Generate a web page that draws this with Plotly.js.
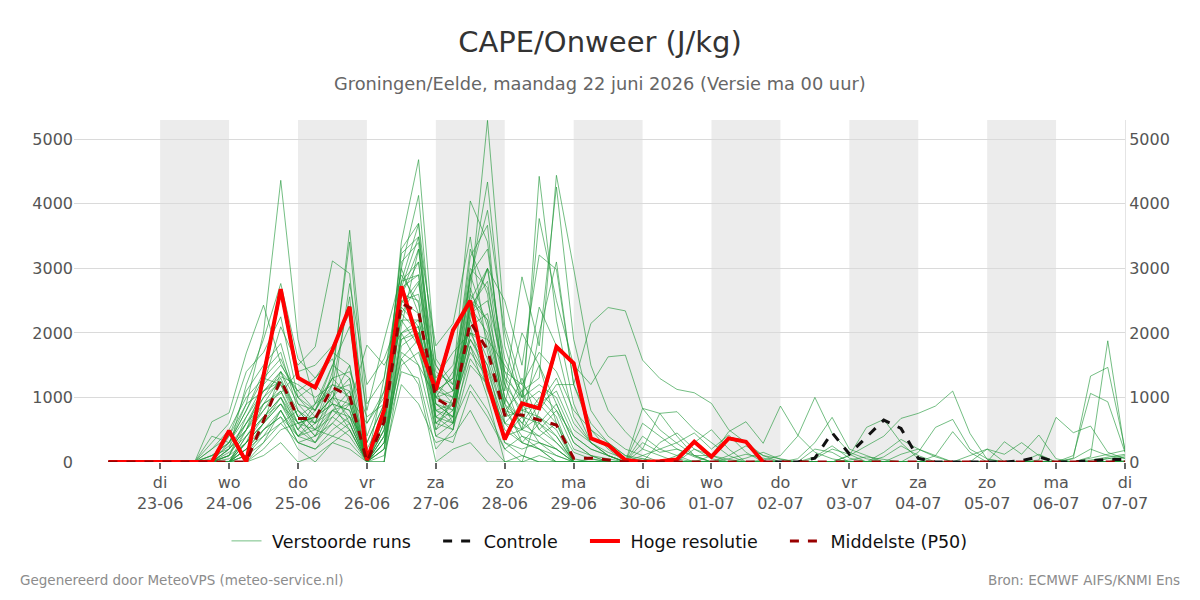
<!DOCTYPE html>
<html>
<head>
<meta charset="utf-8">
<script src="https://cdn.plot.ly/plotly-3.0.1.min.js"></script>
<style>
  html, body { margin: 0; padding: 0; background: #ffffff; }
  #chart { width: 1200px; height: 600px; }
</style>
</head>
<body>
<div id="chart"></div>
<script>
// Forecast time grid: first step and spacing (hours)
const firstStep = '2026-06-22T06:00:00Z';
const stepHours = 6;

// Day ticks along the time axis
const tickDays = ['2026-06-23','2026-06-24','2026-06-25','2026-06-26','2026-06-27','2026-06-28','2026-06-29',
                  '2026-06-30','2026-07-01','2026-07-02','2026-07-03','2026-07-04','2026-07-05','2026-07-06','2026-07-07'];
const dayNames = ['di','wo','do','vr','za','zo','ma','di','wo','do','vr','za','zo','ma','di'];

// Shaded (alternate) days
const shadedDays = ['2026-06-23','2026-06-25','2026-06-27','2026-06-29','2026-07-01','2026-07-03','2026-07-05'];

// CAPE (J/kg), ensemble members
const run01 = [0,0,0,0,0,0, 100,300,900,2000,4365, 1900,900,1500,2100,400, 1100,2600,3300,1000,900, 2300,3000,1200,500,900, 1300,600,300,150,50, 0,0,0,0,0, 50,120,60,0,0, 0,0,30,80,40, 0,0,0,0,0, 0,0,0,0,0, 0,0,0,20];
const run02 = [0,0,0,0,0,0, 0,200,1200,1900,2766, 1600,1300,1700,1500,300, 900,3000,4131,1200,1500, 2800,4339,1800,900,1100, 800,400,200,100,0, 0,0,0,0,0, 0,0,0,0,0, 0,0,0,0,0, 0,0,0,0,0, 0,0,0,0,0, 0,0,60,0];
const run03 = [0,0,0,0,0,0, 300,600,1400,1700,2250, 1000,800,1300,3591,900, 1300,2800,3690,800,600, 2600,5294,2100,1200,1700, 1400,800,500,300,100, 50,0,0,0,100, 470,624,290,867,418, 150,50,0,0,0, 0,0,0,0,0, 0,0,0,0,0, 0,0,0,0];
const run04 = [0,0,0,0,0,0, 0,0,500,1200,2095, 1500,1785,3116,2920,200, 700,3410,4685,1500,1100, 3180,3669,900,300,600, 900,300,100,0,0, 0,0,0,0,0, 0,0,30,100,400, 1001,444,150,50,0, 0,0,0,0,0, 0,0,0,0,0, 0,0,0,0];
const run05 = [0,0,0,0,0,0, 0,400,1100,1500,1837, 900,600,1400,3410,600, 1000,3230,3488,1100,1300, 4045,3410,1300,700,4427, 2200,900,300,100,0, 0,0,0,0,0, 0,0,0,0,0, 0,0,100,250,400, 676,754,867,1099,444, 40,0,0,0,0, 0,0,0,0];
const run06 = [0,0,0,0,0,0, 624,760,1690,2430,1527, 1000,700,900,2766,1200, 1600,2300,2766,1300,1700, 2000,1900,1500,1100,1300, 4443,2998,1500,800,470, 200,100,0,0,0, 0,0,0,0,0, 0,0,0,0,0, 0,0,0,0,0, 0,0,0,0,0, 0,0,0,0];
const run07 = [0,0,0,0,0,0, 0,100,600,1100,1321, 1200,1000,1200,2560,0, 500,2600,3100,700,900, 2870,3901,2000,1000,3773, 2500,1500,1200,1630,1656, 831,754,779,500,300, 100,0,0,0,0, 0,0,0,0,0, 0,0,0,0,0, 0,0,0,0,0, 0,0,0,0];
const run08 = [0,0,0,0,0,0, 0,0,300,900,1063, 1400,1500,1800,2300,800, 1888,2900,2457,600,800, 2400,2800,1100,2869,1800, 4262,1900,800,400,200, 100,0,0,0,0, 0,0,0,0,0, 0,0,0,0,0, 0,0,0,0,0, 0,0,0,0,0, 0,0,0,0];
const run09 = [0,0,0,0,0,0, 400,300,800,1400,1700, 800,500,700,1000,0, 300,2100,3300,1400,1200, 3300,2600,600,300,200, 100,0,0,0,0, 0,0,0,0,0, 0,0,0,0,50, 300,692,200,100,0, 0,0,0,0,0, 0,0,0,0,0, 0,0,0,0];
const run10 = [0,0,0,0,0,0, 0,0,200,600,1400, 700,400,1000,1500,0, 600,2456,2800,900,700, 2200,3000,2500,1500,3207, 2985,1200,600,300,100, 0,0,50,0,0, 0,0,0,0,0, 0,0,0,0,0, 0,0,0,0,0, 0,0,0,0,0, 60,1331,1466,200];
const run11 = [0,0,0,0,0,0, 0,150,400,800,1100, 500,900,1300,1000,0, 200,1800,2000,500,1000, 1900,1500,700,1300,600, 400,0,0,0,0, 0,0,0,0,0, 0,0,0,0,0, 0,0,0,0,0, 0,0,0,0,0, 0,0,0,0,0, 100,1063,933,150];
const run12 = [0,0,0,0,0,0, 200,500,1000,1300,1200, 600,300,800,900,0, 800,2700,3488,1800,2147, 3488,1700,800,400,300, 200,0,0,0,0, 0,0,0,0,0, 0,0,0,0,0, 0,0,0,0,0, 0,0,0,0,0, 0,0,0,0,0, 0,80,1878,150];
const run13 = [0,0,0,0,0,0, 0,0,0,300,800, 300,200,500,700,0, 400,1900,2100,700,500, 1500,1200,300,100,0, 0,0,0,0,0, 0,0,0,0,0, 0,0,0,0,0, 0,0,0,0,0, 0,0,0,0,0, 0,0,0,30,692, 454,557,150,50];
const run14 = [0,0,0,0,0,0, 0,100,700,1200,1500, 1100,1300,1600,900,1811, 1500,2000,1500,1000,1400, 2100,1100,600,900,500, 300,50,0,0,0, 0,0,0,0,0, 0,0,0,0,0, 0,0,100,537,660, 300,50,0,0,0, 0,0,0,0,0, 0,0,0,0];
const run15 = [0,0,0,0,0,0, 0,0,400,700,900, 400,500,1100,1200,0, 0,2500,2600,1100,600, 2900,2100,1000,600,400, 600,0,0,0,0, 0,0,0,0,0, 0,0,0,0,0, 0,0,0,0,0, 0,150,537,660,200, 50,0,0,0,0, 0,0,0,0];
const run16 = [0,0,0,0,0,0, 0,200,600,1000,1250, 800,600,1200,1100,0, 700,2200,2200,1000,800, 2200,1600,700,800,700, 500,0,50,0,0, 0,0,0,20,0, 0,60,150,40,0, 0,0,0,0,0, 0,0,0,0,0, 0,0,0,0,0, 0,30,80,120];
const run17 = [0,0,0,0,0,0, 0,0,100,500,700, 200,0,300,500,0, 300,1600,1900,400,600, 1200,800,200,0,800, 1200,1200,2147,2394,2342, 1579,1295,1125,1073,908, 500,300,100,50,0, 0,0,0,0,0, 0,0,0,0,0, 0,0,0,0,0, 0,0,0,0];
const run18 = [0,0,0,0,0,0, 100,300,700,1100,1400, 900,800,1500,1300,0, 500,3100,3400,900,700, 2500,2200,1000,500,2000, 3100,1200,500,200,0, 300,150,200,80,0, 0,0,0,0,0, 0,0,0,0,0, 120,200,80,0,0, 0,0,0,0,0, 0,0,0,0];
const run19 = [0,0,0,0,0,0, 0,0,0,200,500, 600,700,900,800,0, 200,2000,2200,1200,900, 1700,1300,500,300,200, 0,0,0,0,0, 0,300,450,200,50, 0,0,0,0,0, 200,150,0,0,80, 250,100,0,0,0, 0,0,0,0,0, 0,0,0,0];
const run20 = [0,0,0,0,0,0, 0,0,300,600,1000, 400,700,1000,1300,0, 800,2800,2900,600,500, 1800,1000,0,0,100, 0,0,0,0,0, 50,0,0,0,0, 0,0,0,0,0, 80,250,60,0,0, 0,0,0,0,0, 0,0,0,0,0, 0,0,50,100];
const run21 = [0,0,0,0,0,0, 0,100,500,900,1300, 700,900,1100,600,0, 400,2300,2000,1100,1000, 2400,2000,900,600,1000, 700,0,0,0,0, 600,400,200,100,100, 40,0,0,0,0, 0,0,0,0,0, 0,0,0,0,0, 0,0,0,0,0, 0,0,0,0];
const run22 = [0,0,0,0,0,0, 0,0,200,400,600, 300,400,600,400,0, 0,1500,1700,800,700, 2000,1500,400,700,300, 100,0,0,0,0, 0,0,100,300,500, 200,0,0,0,0, 0,0,0,0,0, 0,0,0,0,0, 200,120,300,100,0, 0,0,0,0];
const run23 = [0,0,0,0,0,0, 50,250,600,900,1100, 600,500,800,700,300, 900,2600,2500,700,600, 2300,2500,1400,900,1500, 900,300,100,50,0, 0,0,0,200,100, 0,0,0,0,0, 0,0,0,0,150, 350,200,100,0,0, 0,0,0,0,0, 0,0,0,0];
const run24 = [0,0,0,0,0,0, 0,0,0,100,300, 0,100,300,200,0, 100,1200,900,300,400, 800,300,0,0,0, 0,0,0,0,0, 0,0,0,0,0, 0,0,0,0,0, 0,0,0,0,0, 0,0,0,0,0, 0,0,0,0,0, 0,0,0,0];
const run25 = [0,0,0,0,0,0, 0,300,800,1300,1600, 1000,1200,900,500,0, 1300,3000,2300,1100,1300, 2700,1900,800,1100,500, 800,200,100,0,0, 0,0,0,0,0, 100,250,100,0,0, 0,0,0,0,0, 0,0,0,0,0, 0,0,0,0,0, 0,0,0,0];
const run26 = [0,0,0,0,0,0, 0,0,400,700,1000, 500,300,600,900,0, 500,2400,2100,600,900, 1900,1400,600,500,700, 400,0,0,0,0, 0,0,0,0,0, 0,0,0,0,0, 0,0,0,0,0, 0,0,0,0,100, 200,0,0,120,0, 0,0,0,0];
const run27 = [0,0,0,0,0,0, 0,0,100,300,600, 800,500,400,300,0, 200,1700,1500,400,300, 1100,700,200,400,200, 0,0,0,0,0, 0,0,0,0,0, 0,0,0,0,0, 0,0,0,0,0, 0,0,0,0,0, 0,0,0,0,0, 0,0,0,80];
const run28 = [0,0,0,0,0,0, 200,400,900,1100,1250, 700,600,900,800,0, 700,2500,2300,1500,1100, 2100,2300,1200,800,900, 600,150,50,0,0, 200,754,400,100,0, 0,0,0,0,0, 50,200,120,0,0, 0,0,0,0,0, 0,0,0,0,0, 0,0,0,0];
const run29 = [0,0,0,0,0,0, 0,100,300,600,900, 500,800,1200,1000,600, 1100,2200,1800,500,700, 1600,1200,300,200,300, 200,0,0,0,0, 100,200,100,0,0, 0,0,0,0,0, 0,0,0,0,0, 0,0,0,0,0, 0,314,120,418,50, 0,0,0,0];
const run30 = [0,0,0,0,0,0, 0,0,200,500,800, 300,200,400,600,0, 300,1400,1300,200,500, 2500,3000,1600,1000,2400, 1800,700,300,100,0, 400,200,300,450,200, 418,150,0,0,0, 0,0,0,0,0, 0,0,0,0,0, 0,0,0,0,0, 0,0,0,0];
const run31 = [0,0,0,0,0,0, 0,50,300,700,1000, 600,700,1000,900,0, 600,2700,2900,1200,1000, 2600,2200,800,700,600, 300,0,0,0,0, 0,0,0,0,0, 0,0,0,0,0, 0,0,0,0,0, 0,0,0,0,0, 0,0,0,0,0, 50,200,100,60];
const run32 = [0,0,0,0,0,0, 0,0,100,400,800, 400,300,700,500,0, 400,1600,1200,0,200, 300,0,0,100,0, 0,0,0,0,0, 0,0,0,0,0, 0,0,0,0,0, 0,0,0,0,0, 0,0,0,0,0, 0,0,0,0,0, 0,0,0,0];
const run33 = [0,0,0,0,0,0, 0,200,500,800,1200, 700,400,800,1100,0, 800,3300,3700,1600,1200, 3000,2700,1300,1000,1200, 1000,400,200,100,0, 0,0,0,0,0, 0,0,0,0,0, 0,0,0,0,0, 0,0,0,0,0, 0,0,0,0,0, 0,60,120,180];
const run34 = [0,0,0,0,0,0, 0,0,300,600,900, 600,700,1000,700,0, 0,2000,2100,900,800, 1800,1300,400,500,400, 200,0,0,0,0, 0,0,0,0,0, 0,0,0,0,0, 0,0,0,0,0, 0,0,100,470,150, 0,0,0,0,0, 0,0,0,0];
const run35 = [0,0,0,0,0,0, 100,200,500,1000,1400, 1100,800,1300,1400,700, 900,2800,3100,1000,1100, 2900,3300,1400,1200,900, 1100,500,300,100,0, 831,500,289,100,0, 0,0,0,0,0, 0,0,0,0,0, 0,0,0,0,0, 0,0,0,0,0, 0,0,0,0];
const run36 = [0,0,0,0,0,0, 0,0,200,500,700, 400,600,800,600,0, 300,1900,2000,800,900, 2000,1800,900,2000,1500, 600,0,0,0,0, 0,0,0,0,0, 0,0,0,0,0, 0,0,0,0,0, 0,0,0,0,0, 0,0,0,0,0, 0,0,0,0];

// Control run, high-resolution run and ensemble median (P50)
const controle = [0,0,0,0,0,0, 0,485,0,1339,2678, 1305,1156,1734,2404,30, 805,2724,1850,1115,2043, 2497,1218,351,908,831, 1785,1528,367,263,30, 0,10,40,314,82, 367,314,0,0,0, 60,454,124,392,650, 521,57,0,0,0, 0,0,20,80,0, 0,20,40,40];
const hogeResolutie = [0,0,0,0,0,0, 0,485,0,1339,2678, 1305,1156,1734,2404,30, 805,2724,1850,1115,2043, 2497,1218,351,908,831, 1785,1528,367,263,30, 0,10,40,314,82, 367,314,0];
const middelste = [0,0,0,0,0,0, 0,0,0,640,1280, 676,676,1156,1022,0, 624,2456,2327,986,831, 2172,1734,728,728,650, 573,57,60,30,0, 0,0,0,0,0, 0,0,0,0,0, 0,0,0,0,0, 0,0,0,0,0, 0,0,0,0,0, 0,0,0,0];

const runs = [run01,run02,run03,run04,run05,run06,run07,run08,run09,run10,run11,run12,
              run13,run14,run15,run16,run17,run18,run19,run20,run21,run22,run23,run24,
              run25,run26,run27,run28,run29,run30,run31,run32,run33,run34,run35,run36];

const yTicks = [0, 1000, 2000, 3000, 4000, 5000];

// ---- build ----
const HOUR = 3600 * 1000;
function fmt(ms) { return new Date(ms).toISOString().slice(0, 19).replace('T', ' '); }
function timesFor(n) {
  const t0 = Date.parse(firstStep);
  return Array.from({length: n}, (_, i) => fmt(t0 + i * stepHours * HOUR));
}
function dayAfter(d) { return fmt(Date.parse(d + 'T00:00:00Z') + 24 * HOUR); }

// legend entries get a little breathing room around their labels
const NB = '\u00a0';
function legendLabel(text, last) { return NB + text + (last ? '' : NB.repeat(4)); }

const FONT = 'DejaVu Sans, Verdana, sans-serif';
const traces = [];

runs.forEach((r, k) => {
  traces.push({
    x: timesFor(r.length), y: r, type: 'scatter', mode: 'lines',
    name: legendLabel('Verstoorde runs'), legendgroup: 'ens', showlegend: k === 0,
    line: {color: 'rgba(30,150,55,0.62)', width: 1},
    hoverinfo: 'skip', xaxis: 'x', yaxis: 'y'
  });
});

traces.push({
  x: timesFor(controle.length), y: controle, type: 'scatter', mode: 'lines',
  name: legendLabel('Controle'), line: {color: '#111111', width: 3, dash: 'dash'},
  hoverinfo: 'skip', xaxis: 'x', yaxis: 'y2'
});
traces.push({
  x: timesFor(hogeResolutie.length), y: hogeResolutie, type: 'scatter', mode: 'lines',
  name: legendLabel('Hoge resolutie'), line: {color: '#ff0000', width: 4},
  hoverinfo: 'skip', xaxis: 'x', yaxis: 'y2'
});
traces.push({
  x: timesFor(middelste.length), y: middelste, type: 'scatter', mode: 'lines',
  name: legendLabel('Middelste (P50)', true), line: {color: '#990000', width: 3, dash: 'dash'},
  hoverinfo: 'skip', xaxis: 'x', yaxis: 'y2'
});

const shapes = shadedDays.map(d => ({
  type: 'rect', xref: 'x', yref: 'paper', x0: d, x1: dayAfter(d), y0: 0, y1: 1,
  fillcolor: '#ececec', line: {width: 0}, layer: 'below'
}));

const tickText = tickDays.map((d, i) => dayNames[i] + '<br>' + d.slice(8, 10) + '-' + d.slice(5, 7));

const yRange = [0, 5300];

const layout = {
  width: 1200, height: 600,
  paper_bgcolor: '#ffffff', plot_bgcolor: '#ffffff',
  font: {family: FONT, color: '#555555', size: 16},
  margin: {l: 74, r: 75, t: 120, b: 138},
  title: {
    text: 'CAPE/Onweer (J/kg)', x: 0.5, xanchor: 'center',
    y: 1 - 42 / 600, yanchor: 'middle', yref: 'container',
    font: {family: FONT, size: 29, color: '#333333'}
  },
  xaxis: {
    type: 'date', range: ['2026-06-21 18:00:00', '2026-07-07 00:00:00'],
    tickmode: 'array', tickvals: tickDays, ticktext: tickText,
    ticks: 'outside', ticklen: 6, tickwidth: 2, tickcolor: '#666666',
    tickfont: {family: FONT, size: 16, color: '#555555'},
    showgrid: false, zeroline: false, showline: false, fixedrange: true
  },
  yaxis: {
    range: yRange, tickmode: 'array', tickvals: yTicks,
    gridcolor: '#dadada', gridwidth: 1, zeroline: false, showline: false,
    tickfont: {family: FONT, size: 16, color: '#555555'}, ticks: '', fixedrange: true
  },
  yaxis2: {
    range: yRange, overlaying: 'y', side: 'right', tickmode: 'array', tickvals: yTicks,
    showgrid: false, zeroline: false, showline: true, linecolor: '#e4e4e4', linewidth: 1,
    tickfont: {family: FONT, size: 16, color: '#555555'}, ticks: '', fixedrange: true
  },
  shapes: shapes,
  showlegend: true,
  legend: {
    orientation: 'h', x: 0.5, xanchor: 'center', y: (462 - 541) / 342, yanchor: 'middle',
    font: {family: FONT, size: 17.5, color: '#111111'}, bgcolor: 'rgba(0,0,0,0)',
    traceorder: 'normal'
  },
  annotations: [
    {text: 'Groningen/Eelde, maandag 22 juni 2026 (Versie ma 00 uur)', xref: 'paper', yref: 'paper',
     x: 0.5, y: (462 - 84) / 342, xanchor: 'center', yanchor: 'middle', showarrow: false,
     font: {family: FONT, size: 17.8, color: '#666666'}},
    {text: 'Gegenereerd door MeteoVPS (meteo-service.nl)', xref: 'paper', yref: 'paper',
     x: (18 - 74) / 1051, y: (462 - 580) / 342, xanchor: 'left', yanchor: 'middle', showarrow: false,
     font: {family: FONT, size: 13.5, color: '#8c8c8c'}},
    {text: 'Bron: ECMWF AIFS/KNMI Ens', xref: 'paper', yref: 'paper',
     x: (1182 - 74) / 1051, y: (462 - 580) / 342, xanchor: 'right', yanchor: 'middle', showarrow: false,
     font: {family: FONT, size: 13.5, color: '#8c8c8c'}}
  ],
  hovermode: false
};

Plotly.newPlot('chart', traces, layout, {displayModeBar: false, staticPlot: true});
</script>
</body>
</html>
